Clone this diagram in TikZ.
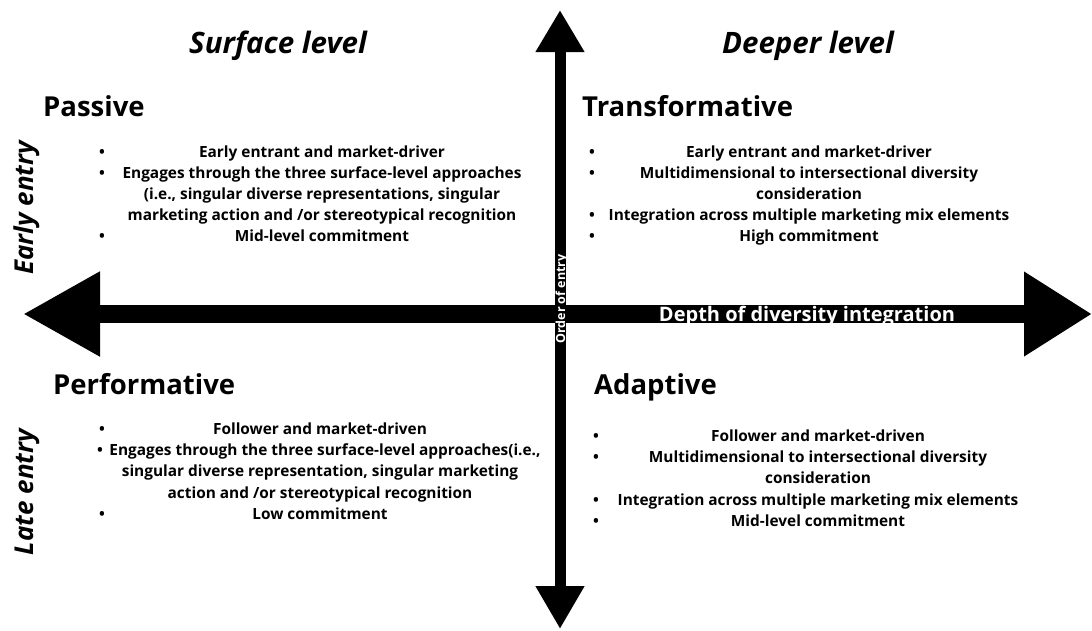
\documentclass[tikz,border=0pt]{standalone}
\usepackage{fontspec}
\setmainfont{Open Sans}
\usetikzlibrary{arrows.meta, positioning}
\tikzset{
	axisline/.style={
			draw=black,
			line cap=butt
		},
	axislabel/.style={
			text=white,
			inner sep=0pt,
			anchor=base
		},
	leveltitle/.style={
			anchor=base,
			inner sep=0pt,
			font=\fontsize{29.5}{32}\selectfont\bfseries\itshape
		},
	entrylabel/.style={
			rotate=90,
			anchor=base,
			inner sep=0pt,
			font=\fontsize{26}{28}\selectfont\bfseries\itshape
		},
	quadtitle/.style={
			anchor=base west,
			inner sep=0pt,
			font=\fontsize{27.5}{30}\selectfont\bfseries
		},
	itemlist/.style={
			anchor=base,
			align=center,
			inner sep=0pt,
			font=\fontsize{15.4}{21.2}\selectfont\bfseries
		},
	bulletnode/.style={
			anchor=base,
			inner sep=0pt,
			font=\fontsize{15.4}{21.2}\selectfont\bfseries
		}
}

\begin{document}
\begin{tikzpicture}[x=1pt, y=-1pt]
\useasboundingbox (0,0) rectangle (1092,630);

\coordinate (west) at (23,314);
\coordinate (east) at (1092,314);
\coordinate (north) at (560,10);
\coordinate (south) at (560,629);

\draw[axisline, line width=18pt, {Triangle[length=77pt,width=80pt]}-{Triangle[length=68pt,width=80pt]}] (west) -- (east);
\draw[axisline, line width=11pt, {Triangle[length=43pt,width=46pt]}-{Triangle[length=42pt,width=46pt]}] (south) -- (north);

\node[axislabel, font=\fontsize{20}{21}\selectfont\bfseries] (depth) at (807,321) {Depth of diversity integration};
\node[axislabel, rotate=90, font=\fontsize{12.5}{14}\selectfont\bfseries] (order) at (565,299) {Order of entry};

\node[leveltitle] (surface) at (278,53) {Surface level};
\node[leveltitle] (deeper) at (808,53) {Deeper level};
\node[entrylabel] (early) at (33,208) {Early entry};
\node[entrylabel] (late) at (33,492) {Late entry};

\node[quadtitle] (passive) at (43,116) {Passive};
\node[quadtitle] (transform) at (582,116) {Transformative};
\node[quadtitle] (perform) at (53,394) {Performative};
\node[quadtitle] (adaptive) at (594,394) {Adaptive};

% lists sit on the baseline of their last line
\node[itemlist] (pas-list) at (322,241.8) {Early entrant and market-driver\\
	Engages through the three surface-level approaches\\
	(i.e., singular diverse representations, singular\\
	marketing action and /or stereotypical recognition\\
	Mid-level commitment};
\node[itemlist] (tra-list) at (809,241.8) {Early entrant and market-driver\\
	Multidimensional to intersectional diversity\\
	consideration\\
	Integration across multiple marketing mix elements\\
	High commitment};
\node[itemlist] (per-list) at (320,519.3) {Follower and market-driven\\
	\hspace*{10pt}Engages through the three surface-level approaches(i.e.,\\
	singular diverse representation, singular marketing\\
	action and /or stereotypical recognition\\
	Low commitment};
\node[itemlist] (ada-list) at (818,526.3) {Follower and market-driven\\
	Multidimensional to intersectional diversity\\
	consideration\\
	Integration across multiple marketing mix elements\\
	Mid-level commitment};

% bullets of the four lists
\foreach \y [count=\i] in {157,178.2,241.8}
	\node[bulletnode] (pas-dot\i) at (102,\y) {\textbullet};
\foreach \y [count=\i] in {157,178.2,220.6,241.8}
	\node[bulletnode] (tra-dot\i) at (592,\y) {\textbullet};
\foreach \x/\y [count=\i] in {102/434.5,100/455.7,102/519.3}
	\node[bulletnode] (per-dot\i) at (\x,\y) {\textbullet};
\foreach \y [count=\i] in {441.5,462.7,505.1,526.3}
	\node[bulletnode] (ada-dot\i) at (596,\y) {\textbullet};
\end{tikzpicture}
\end{document}
